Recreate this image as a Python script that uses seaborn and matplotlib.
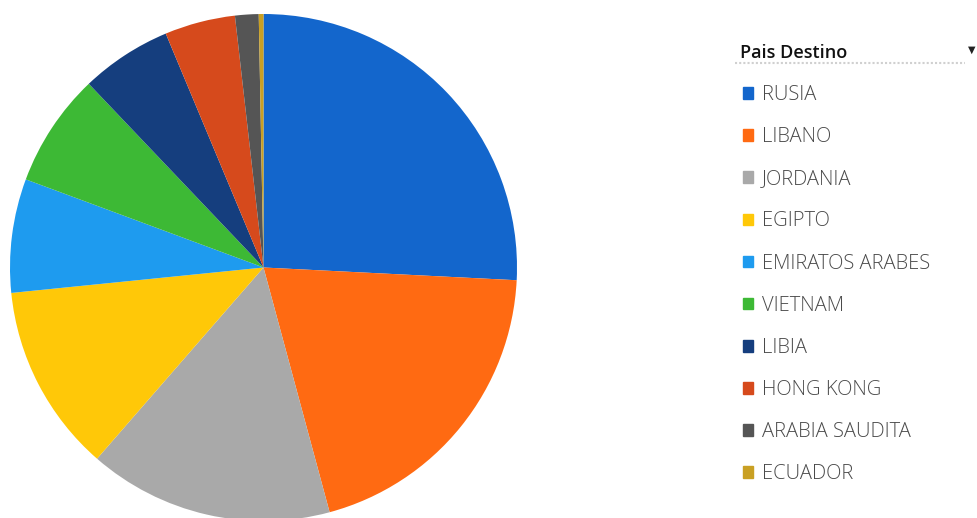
import matplotlib
matplotlib.use("Agg")
import matplotlib.pyplot as plt
import seaborn as sns
from matplotlib.patches import Rectangle

sns.set_theme(style="white")
plt.rcParams['font.family'] = ['Open Sans', 'DejaVu Sans']

countries = ["RUSIA", "LIBANO", "JORDANIA", "EGIPTO", "EMIRATOS ARABES",
             "VIETNAM", "LIBIA", "HONG KONG", "ARABIA SAUDITA", "ECUADOR"]
shares = [25.8, 20.0, 15.6, 12.0, 7.25, 7.25, 5.8, 4.5, 1.5, 0.3]
colors = ["#1366CC", "#FF6A12", "#A9A9A9", "#FFC808", "#1E9BEF",
          "#3DB935", "#153E7E", "#D64A1C", "#555555", "#C9A023"]
legend_title = "Pais Destino"

W, H = 978, 518
fig = plt.figure(figsize=(W / 100, H / 100), dpi=100)
cx, cy, r = 263.5, 267.5, 253.5
ax = fig.add_axes([(cx - r) / W, (H - cy - r) / H, 2 * r / W, 2 * r / H])
wedges, _ = ax.pie(shares, colors=colors, startangle=90, counterclock=False,
                   radius=1, wedgeprops=dict(linewidth=0))
ax.set_xlim(-1, 1)
ax.set_ylim(-1, 1)
ax.set_aspect("equal")
ax.axis("off")

# Legend title and header
fig.text(740 / W, 1 - 53 / H, legend_title, fontsize=13, color="#111111",
         va="center", ha="left", fontweight="semibold")
fig.add_artist(plt.Line2D([735 / W, 965 / W], [1 - 63 / H, 1 - 63 / H],
                          color="#d0d0d0", lw=1.5, ls=(0, (1, 1))))
fig.text(972 / W, 1 - 50 / H, "\u25BC", fontsize=7, color="#222222",
         va="center", ha="center")

handles = [Rectangle((0, 0), 1, 1, color=c) for c in colors]
leg = fig.legend(handles, countries, loc="upper left",
                 bbox_to_anchor=(743 / W, 1 - 85 / H), bbox_transform=fig.transFigure,
                 frameon=False, fontsize=14.5, handlelength=0.5, handleheight=0.5,
                 handletextpad=0.45, labelspacing=1.1, borderpad=0, borderaxespad=0)
for t in leg.get_texts():
    t.set_color("#4a4a4a")
    t.set_fontweight("light")

fig.savefig("out.png", dpi=100)
